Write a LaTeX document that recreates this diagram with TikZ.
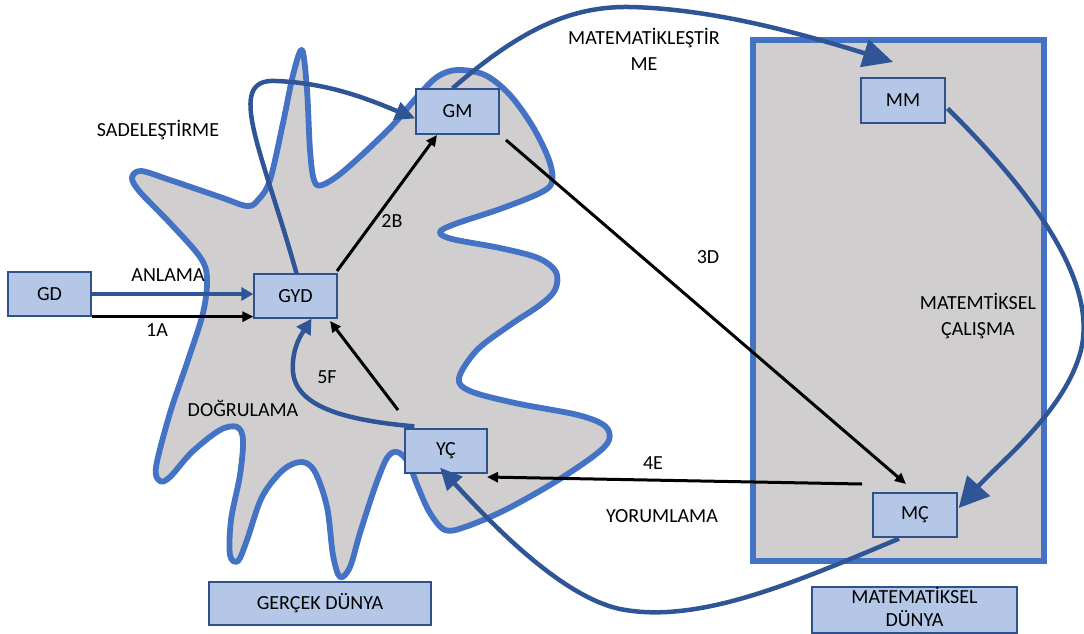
\documentclass[tikz,border=0pt]{standalone}
\usepackage{fontspec}
\setmainfont{Carlito}
\usetikzlibrary{arrows.meta,calc}
\definecolor{grayfill}{HTML}{D0CECE}
\definecolor{outline}{HTML}{4472C4}
\definecolor{boxfill}{HTML}{B4C7E7}
\definecolor{boxline}{HTML}{2F528F}
\definecolor{arrowblue}{HTML}{2F5597}
\begin{document}
\begin{tikzpicture}[x=1pt,y=-1pt,
  font=\fontsize{20}{26}\selectfont,
  mbox/.style={draw=boxline, fill=boxfill, line width=1.3pt, minimum width=83pt, minimum height=44pt, inner sep=0pt},
  lbl/.style={inner sep=1pt},
  barrow/.style={draw=arrowblue, line width=4.5pt},
  karrow/.style={draw=black, line width=3pt, -{Triangle[length=11pt,width=10pt]}}
]
\useasboundingbox (0,0) rectangle (1084,633);
% real world (star)
\draw[fill=grayfill, draw=outline, line width=5.8pt, line join=round]
  plot[smooth cycle, tension=0.55] coordinates {
  (302,50) (307,90) (310,150) (314,180) (322,185) (345,170) (390,128) (417,97) (437,77) (457,70)
  (485,75) (510,95) (533,127) (549,160) (552,182) (540,193) (500,209) (455,224) (440,232) (452,239)
  (500,248) (538,258) (556,272) (555,290) (540,305) (510,325) (477,350) (459,378) (470,391) (515,403)
  (578,415) (605,426) (609,440) (595,455) (555,482) (505,510) (465,527) (445,530) (430,513) (418,487)
  (408,462) (397,452) (387,458) (375,487) (360,533) (350,567) (340,577) (333,555) (327,507) (315,472)
  (302,462) (283,470) (262,497) (247,540) (238,561) (230,555) (231,520) (240,475) (243,440) (237,427)
  (220,430) (192,452) (170,477) (160,481) (156,467) (170,413) (187,363) (203,313) (207,278) (200,257)
  (170,223) (140,192) (132,178) (141,171) (170,180) (220,197) (247,206) (258,200) (270,180) (283,123)
  (293,75)};
% mathematical world rectangle
\draw[fill=grayfill, draw=outline, line width=6pt] (753,40) rectangle (1044,561);

% boxes
\node[mbox] (GD) at (49.5,294) {GD};
\node[mbox] (GYD) at (295.5,296) {GYD};
\node[mbox, minimum height=45pt] (GM) at (457.5,111.5) {GM};
\node[mbox, minimum width=84pt, minimum height=45pt] (MM) at (903,100.5) {MM};
\node[mbox, minimum width=84pt] (MC) at (915,515) {MÇ};
\node[mbox, minimum width=82pt] (YC) at (446,451) {YÇ};
\node[mbox, minimum width=222pt, minimum height=43pt] (GDW) at (320,603.5) {GERÇEK DÜNYA};
\node[mbox, minimum width=205pt, minimum height=46pt] (MDWbox) at (914.5,610) {};
\node[lbl, align=center, font=\fontsize{20}{23}\selectfont] (MDW) at (914.5,607) {MATEMATİKSEL\\DÜNYA};

% labels
\node[lbl, fill=white, minimum width=170pt, minimum height=44pt] (tSad) at (158,130) {SADELEŞTİRME};
\node[lbl] (tAnl) at (168,275) {ANLAMA};
\node[lbl] (t1A) at (157,330) {1A};
\node[lbl] (t2B) at (392,221) {2B};
\node[lbl] (t5F) at (327,377) {5F};
\node[lbl] (tDog) at (243,408) {DOĞRULAMA};
\node[lbl] (t3D) at (708,257) {3D};
\node[lbl, align=center] (tCal) at (978,316) {MATEMTİKSEL\\ÇALIŞMA};
\node[lbl] (t4E) at (653,463) {4E};
\node[lbl, fill=white, minimum width=167pt, minimum height=43pt] (tYor) at (662,516) {YORUMLAMA};
\node[lbl, align=center] (tMat) at (644,49) {MATEMATİKLEŞTİR\\ME};

% coordinates for free arrow ends
\coordinate (c2Bs) at (337,271);
\coordinate (c2Be) at (437,135);
\coordinate (c3Ds) at (506,140);
\coordinate (c3De) at (906,484);
\coordinate (c4Es) at (862,484);
\coordinate (c4Ee) at (487,477);
\coordinate (c5Fs) at (398,410);
\coordinate (c5Fe) at (330,321);

% black arrows
\draw[karrow] (GD.south east) -- (GD.south east -| GYD.west);
\draw[karrow] (c2Bs) -- (c2Be);
\draw[karrow] (c3Ds) -- (c3De);
\draw[karrow] (c4Es) -- (c4Ee);
\draw[karrow] (c5Fs) -- (c5Fe);

% blue arrows
\draw[barrow, -{Triangle[length=12pt,width=13pt]}] (GD.east) -- (GD.east -| GYD.west);
\draw[barrow, -{Triangle[length=20pt,width=18pt]}]
  ($(GYD.north)+(1,0)$) .. controls (262,150) and (224,78) .. (276,81)
  .. controls (330,83) and (370,100) .. ($(GM.west)+(0,7)$);
\draw[barrow, -{Triangle[length=30pt,width=28pt]}]
  ($(GM.north)+(-5,0)$) .. controls (520,30) and (570,6) .. (630,7)
  .. controls (720,9) and (815,38) .. (893,62);
\draw[barrow, -{Triangle[length=30pt,width=30pt]}]
  ($(MM.east)+(2,8)$) .. controls (1030,190) and (1098,280) .. (1081,350)
  .. controls (1066,410) and (1000,462) .. ($(MC.east)+(1,-7)$);
\draw[barrow, -{Triangle[length=22pt,width=20pt]}]
  ($(MC.south)+(-16,1)$) .. controls (800,580) and (700,625) .. (620,609)
  .. controls (560,596) and (490,522) .. ($(YC.south)+(-6,-6)$);
\draw[barrow, -{Triangle[length=15pt,width=16pt]}]
  ($(YC.north west)+(10,-2)$) .. controls (340,420) and (296,405) .. (293,372)
  .. controls (291,348) and (303,332) .. ($(GYD.south)+(16,0)$);
\end{tikzpicture}
\end{document}
